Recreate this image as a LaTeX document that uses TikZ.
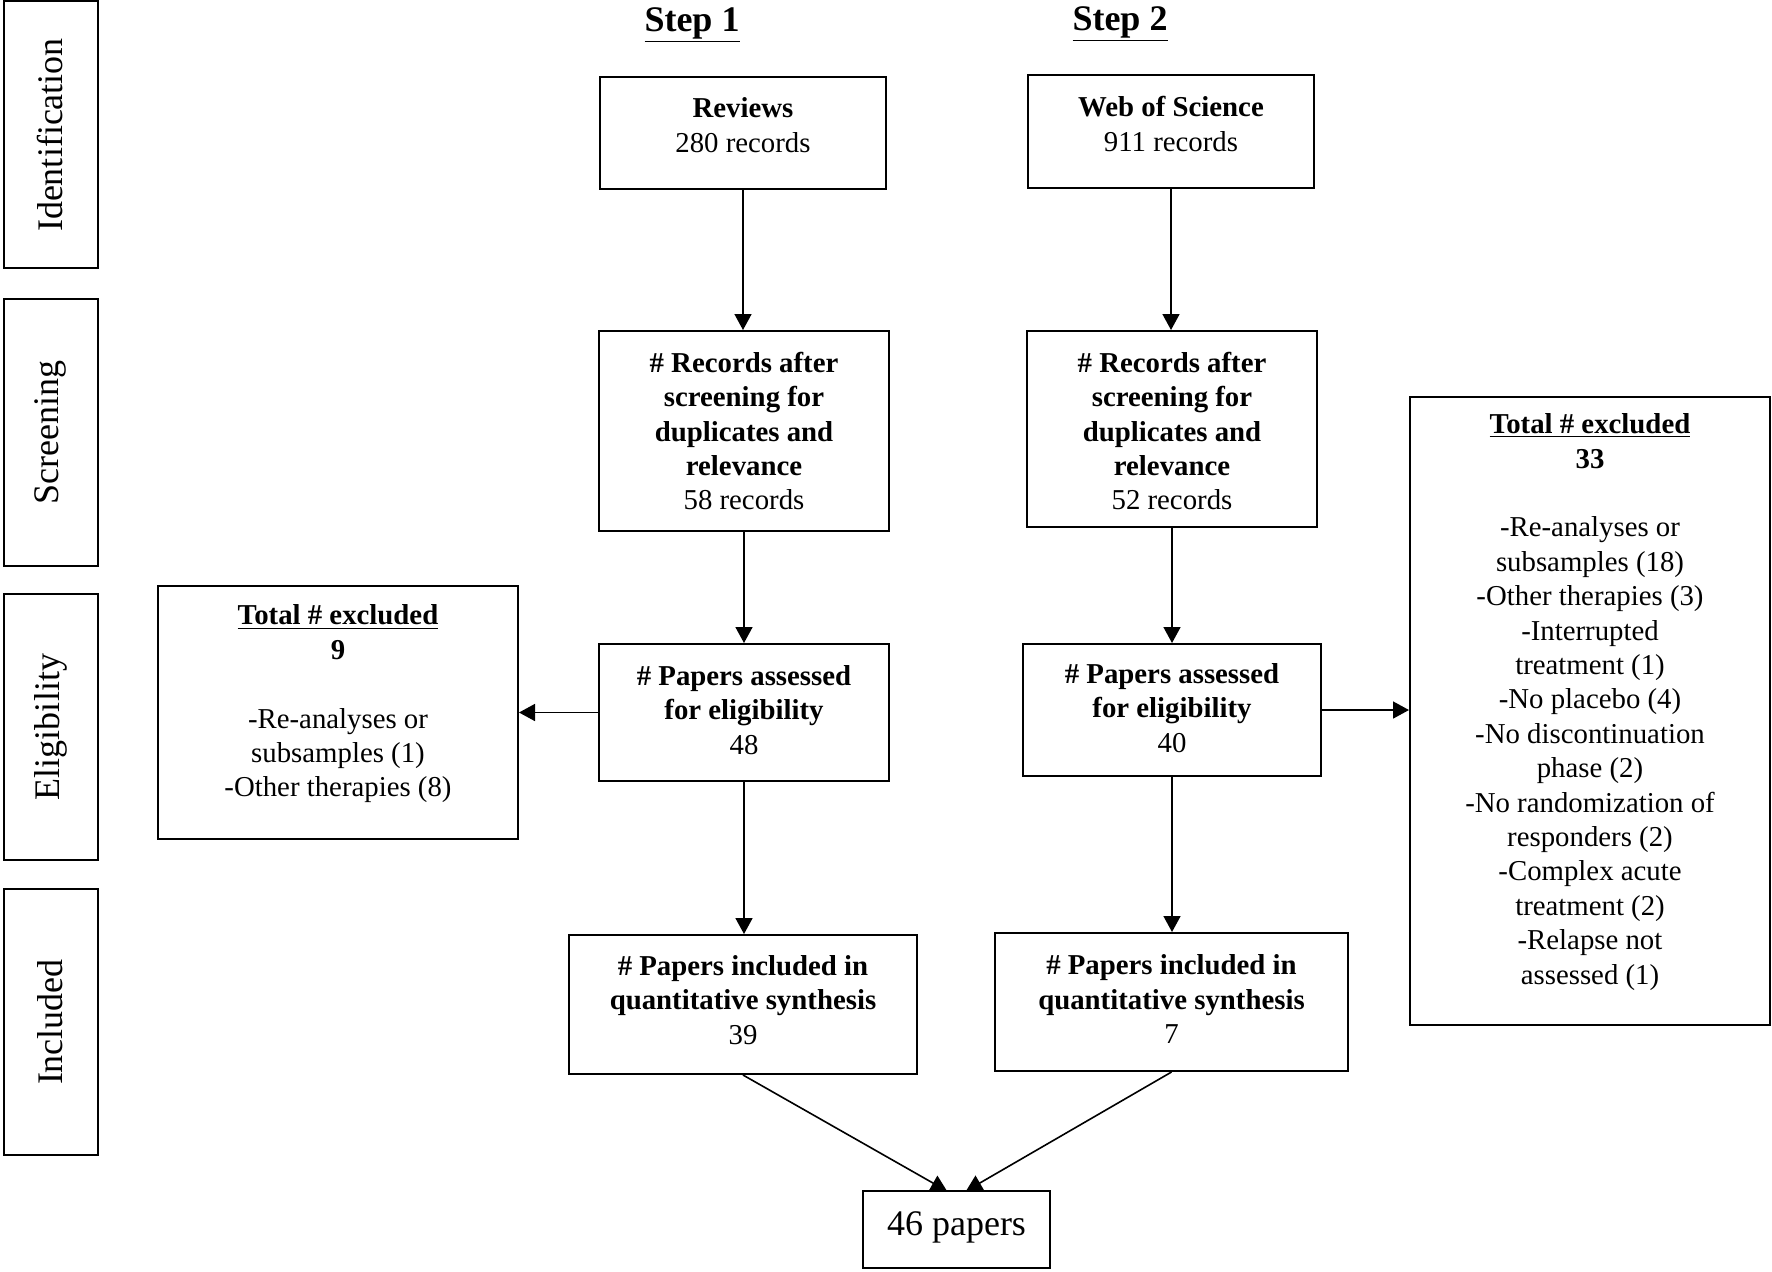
\documentclass[tikz,border=0pt]{standalone}
\usepackage{fontspec}
\setmainfont{Liberation Serif}
\usetikzlibrary{arrows.meta}
\begin{document}
\begin{tikzpicture}[x=0.5pt,y=-0.5pt,
  box/.style={draw, line width=1pt, inner sep=0pt},
  txt/.style={inner sep=0pt, align=center, font=\fontsize{14.4}{17.2}\selectfont},
  side/.style={inner sep=0pt, rotate=90, font=\fontsize{18}{21}\selectfont},
  head/.style={inner sep=0pt, anchor=base, font=\fontsize{18}{21}\selectfont\bfseries},
  arr/.style={line width=0.8pt, -{Triangle[length=8pt,width=8.5pt]}},
]
\useasboundingbox (0,0) rectangle (1772,1271);

% side stage boxes
\node[box, minimum width=47pt, minimum height=133.5pt] (s1) at (50.5,134.5) {};
\node[side] (s1t) at (50.5,135) {Identification};
\node[box, minimum width=47pt, minimum height=133.5pt] (s2) at (50.5,432.5) {};
\node[side] (s2t) at (50.5,432.5) {Screening};
\node[box, minimum width=47pt, minimum height=133pt] (s3) at (50.5,727) {};
\node[side] (s3t) at (50.5,727) {Eligibility};
\node[box, minimum width=47pt, minimum height=133pt] (s4) at (50.5,1022) {};
\node[side] (s4t) at (50.5,1022) {Included};

% headings
\node[head] (h1) at (692,31) {\underline{Step 1}};
\node[head] (h2) at (1120,30) {\underline{Step 2}};

% step 1 column
\node[box, minimum width=143pt, minimum height=56pt] (rev) at (743,133) {};
\node[txt] (revt) at (743,125) {\textbf{Reviews}\\280 records};
\node[box, minimum width=145pt, minimum height=100pt] (rec1) at (744,431) {};
\node[txt] (rec1t) at (744,431) {\textbf{\# Records after}\\\textbf{screening for}\\\textbf{duplicates and}\\\textbf{relevance}\\58 records};
\node[box, minimum width=145pt, minimum height=68.5pt] (pap1) at (744,712.5) {};
\node[txt] (pap1t) at (744,710) {\textbf{\# Papers assessed}\\\textbf{for eligibility}\\48};
\node[box, minimum width=174pt, minimum height=69.5pt] (inc1) at (743,1004.5) {};
\node[txt] (inc1t) at (743,1000) {\textbf{\# Papers included in}\\\textbf{quantitative synthesis}\\39};

% step 2 column
\node[box, minimum width=143pt, minimum height=56.5pt] (wos) at (1171,131.5) {};
\node[txt] (wost) at (1171,124) {\textbf{Web of Science}\\911 records};
\node[box, minimum width=145pt, minimum height=98pt] (rec2) at (1172,429) {};
\node[txt] (rec2t) at (1172,431) {\textbf{\# Records after}\\\textbf{screening for}\\\textbf{duplicates and}\\\textbf{relevance}\\52 records};
\node[box, minimum width=149pt, minimum height=66pt] (pap2) at (1172,710) {};
\node[txt] (pap2t) at (1172,708) {\textbf{\# Papers assessed}\\\textbf{for eligibility}\\40};
\node[box, minimum width=176.5pt, minimum height=69pt] (inc2) at (1171.5,1002) {};
\node[txt] (inc2t) at (1171.5,999) {\textbf{\# Papers included in}\\\textbf{quantitative synthesis}\\7};

% exclusion boxes
\node[box, minimum width=180pt, minimum height=126.5pt] (exL) at (338,712.5) {};
\node[txt] (exLt) at (338,704) {\textbf{\underline{Total \# excluded}}\\\textbf{9}\\[17.2pt]-Re-analyses or\\subsamples (1)\\-Other therapies (8)};
\node[box, minimum width=180pt, minimum height=314pt] (exR) at (1590,711) {};
\node[txt] (exRt) at (1590,702) {\textbf{\underline{Total \# excluded}}\\\textbf{33}\\[17.2pt]-Re-analyses or\\subsamples (18)\\-Other therapies (3)\\-Interrupted\\treatment (1)\\-No placebo (4)\\-No discontinuation\\phase (2)\\-No randomization of\\responders (2)\\-Complex acute\\treatment (2)\\-Relapse not\\assessed (1)};

% result
\node[box, minimum width=93.5pt, minimum height=38.5pt] (res) at (956.5,1229.5) {};
\node[inner sep=0pt, font=\fontsize{18}{21}\selectfont] (rest) at (956.5,1227) {46 papers};
\coordinate (t1) at (947,1191);
\coordinate (t2) at (966,1191);

% connectors
\draw[arr] (rev.south) -- (rev.south |- rec1.north);
\draw[arr] (rec1.south) -- (rec1.south |- pap1.north);
\draw[arr] (pap1.south) -- (pap1.south |- inc1.north);
\draw[arr] (wos.south) -- (wos.south |- rec2.north);
\draw[arr] (rec2.south) -- (rec2.south |- pap2.north);
\draw[arr] (pap2.south) -- (pap2.south |- inc2.north);
\draw[arr] (pap1.west) -- (pap1.west -| exL.east);
\draw[arr] (pap2.east) -- (pap2.east -| exR.west);
\draw[arr] (inc1.south) -- (t1);
\draw[arr] (inc2.south) -- (t2);
\end{tikzpicture}
\end{document}
